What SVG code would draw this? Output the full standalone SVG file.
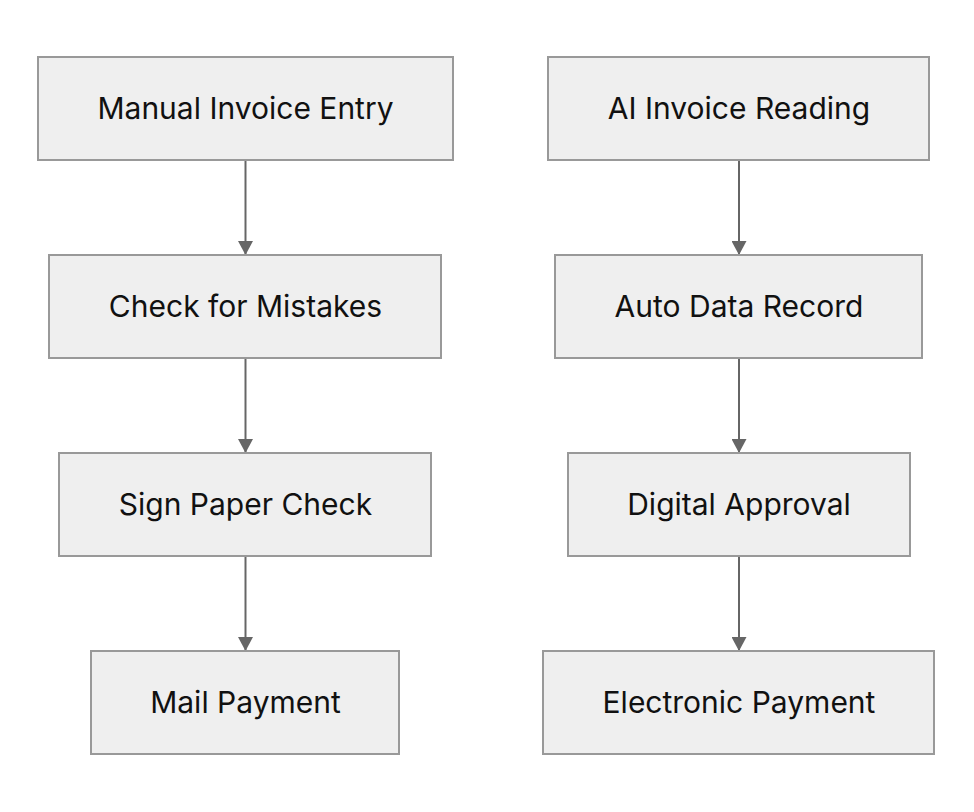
<svg xmlns="http://www.w3.org/2000/svg" width="974" height="812" viewBox="0 0 974 812">
<defs>
<style>
.n rect{fill:#efefef;stroke:#999;stroke-width:2}
.n text{font-family:Inter,"Noto Sans",sans-serif;font-size:30px;fill:#111;text-anchor:middle;dominant-baseline:central}
.e line{stroke:#666;stroke-width:2}
</style>
<marker id="ah" viewBox="0 0 14 15" refX="14" refY="7.5" markerWidth="14" markerHeight="15" markerUnits="userSpaceOnUse" orient="auto">
<path d="M0,0 L14,7.5 L0,15 Z" fill="#666"/>
</marker>
</defs>
<rect width="974" height="812" fill="#fff"/>
<g id="edges" class="e">
<line x1="245.5" y1="160" x2="245.5" y2="255" marker-end="url(#ah)"/>
<line x1="245.5" y1="358" x2="245.5" y2="453" marker-end="url(#ah)"/>
<line x1="245.5" y1="556" x2="245.5" y2="651" marker-end="url(#ah)"/>
<line x1="739" y1="160" x2="739" y2="255" marker-end="url(#ah)"/>
<line x1="739" y1="358" x2="739" y2="453" marker-end="url(#ah)"/>
<line x1="739" y1="556" x2="739" y2="651" marker-end="url(#ah)"/>
</g>
<g id="manual" class="n"><rect x="38" y="57" width="415" height="103"/><text x="245.5" y="108">Manual Invoice Entry</text></g>
<g id="check" class="n"><rect x="49" y="255" width="392" height="103"/><text x="245.5" y="306">Check for Mistakes</text></g>
<g id="sign" class="n"><rect x="59" y="453" width="372" height="103"/><text x="245.5" y="504">Sign Paper Check</text></g>
<g id="mail" class="n"><rect x="91" y="651" width="308" height="103"/><text x="245.5" y="702">Mail Payment</text></g>
<g id="ai" class="n"><rect x="548" y="57" width="381" height="103"/><text x="739" y="108">AI Invoice Reading</text></g>
<g id="auto" class="n"><rect x="555" y="255" width="367" height="103"/><text x="739" y="306">Auto Data Record</text></g>
<g id="digital" class="n"><rect x="568" y="453" width="342" height="103"/><text x="739" y="504">Digital Approval</text></g>
<g id="electronic" class="n"><rect x="543" y="651" width="391" height="103"/><text x="739" y="702">Electronic Payment</text></g>
</svg>
